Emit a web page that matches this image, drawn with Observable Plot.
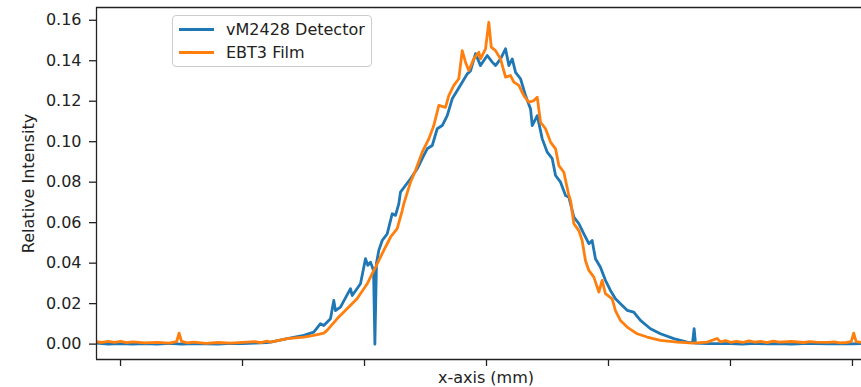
<!DOCTYPE html>
<html>
<head>
<meta charset="utf-8">
<script src="https://cdn.jsdelivr.net/npm/d3@7"></script>
<script src="https://cdn.jsdelivr.net/npm/@observablehq/plot@0.6"></script>
<style>
  html, body { margin: 0; padding: 0; background: #fff; }
  #wrap { position: relative; width: 861px; height: 387px; font-family: "DejaVu Sans", sans-serif; }
  #legend { position: absolute; left: 172px; top: 15px; width: 198px; height: 50px;
    border: 1px solid #cccccc; border-radius: 4px; background: rgba(255,255,255,0.8); font-size: 16px; color: #222; }
  .item { position: absolute; left: 6px; height: 20px; display: flex; align-items: center; }
  .sw { width: 35px; height: 3px; margin-right: 12px; }
</style>
</head>
<body>
<div id="wrap"></div>
<script>
// ---- data (x in mm, relative intensity) ----
const seriesNames = ["vM2428 Detector", "EBT3 Film"];
const seriesColors = ["#1f77b4", "#ff7f0e"];

const detectorX = [-32,-31,-30,-29,-28,-27,-26,-25,-24,-23,-22,-21,-20,-19,-18,
  -17.70,-16.34,-14.98,-14.16,-13.61,-13.34,-12.79,-12.52,-12.38,-11.97,-11.15,-11.01,-10.33,-9.92,-9.73,-9.51,-9.26,-9.15,-9.02,-8.83,-8.55,-8.14,-7.73,-7.46,-7.19,-7.05,-6.23,-5.68,-5.14,-4.86,-4.45,-4.04,-3.63,-3.22,-2.81,-2.40,-1.99,-1.58,-1.31,-0.90,-0.49,0.06,0.47,0.74,1.15,1.56,1.83,2.11,2.38,2.79,3.20,3.61,3.75,4.16,4.57,4.98,5.39,5.66,6.07,6.48,6.75,7.16,7.57,7.98,8.39,8.66,8.93,9.34,9.75,10.16,10.57,10.98,11.53,12.07,12.62,13.44,14.26,15.35,16.45,16.89,17.02,17.13,18.09,19.18,
  20,21,22,23,24,25,26,27,28,29,30,30.74];
const detectorY = [0.0005,0,0.0003,0,0.0002,0,0.0004,0,0.0003,0.0001,0,0.0004,0.0002,0.0005,0.0008,
  0.0010,0.0027,0.0043,0.0059,0.0101,0.0092,0.0125,0.0216,0.0166,0.0183,0.0274,0.0240,0.0298,0.0422,0.0389,0.0405,0.0364,0.0000,0.0399,0.0463,0.0512,0.0545,0.0644,0.0636,0.0693,0.0751,0.0817,0.0866,0.0932,0.0965,0.0981,0.1064,0.1080,0.1129,0.1212,0.1253,0.1294,0.1335,0.1350,0.1435,0.1376,0.1426,0.1393,0.1376,0.1409,0.1459,0.1376,0.1409,0.1343,0.1311,0.1228,0.1162,0.1080,0.1129,0.1014,0.0948,0.0916,0.0833,0.0800,0.0734,0.0726,0.0627,0.0595,0.0545,0.0496,0.0512,0.0422,0.0380,0.0315,0.0265,0.0224,0.0200,0.0167,0.0158,0.0117,0.0076,0.0051,0.0027,0.0010,0.0006,0.0076,0.0005,0.0002,0.0002,
  0.0003,0,0.0004,0.0001,0.0003,0,0.0002,0.0003,0.0001,0.0002,0.0001,0.0002];

const filmX = [-32,-31.5,-31,-30.5,-30,-29.5,-29,-28,-27,-26,-25.4,-25.2,-25.0,-24.5,-24,-23,-22,-21,-20,-19,-18.5,-18,
  -17.70,-16.34,-14.98,-14.16,-13.34,-13.07,-12.25,-11.43,-10.61,-9.78,-9.37,-8.96,-8.42,-7.87,-7.32,-6.91,-6.78,-6.23,-5.82,-5.27,-4.73,-4.32,-3.91,-3.36,-3.09,-2.68,-2.27,-1.99,-1.72,-1.45,-1.04,-0.63,-0.49,-0.08,0.19,0.39,0.74,1.15,1.56,1.97,2.24,2.65,3.06,3.47,3.88,4.16,4.43,4.84,5.25,5.66,5.93,6.34,6.75,6.89,7.16,7.57,7.84,8.11,8.39,8.80,9.21,9.48,9.75,10.30,10.57,10.98,11.53,12.35,13.17,14.26,15.63,16.99,18.09,18.91,19.18,
  19.6,20,20.5,21,21.5,22,22.5,23,23.5,24,25,26,26.5,27,28,28.5,29,29.5,29.9,30.1,30.3,30.74];
const filmY = [0.0012,0.0008,0.0014,0.0009,0.0013,0.0007,0.0011,0.0006,0.0009,0.0005,0.0012,0.0054,0.0013,0.0006,0.0010,0.0004,0.0008,0.0005,0.0009,0.0012,0.0007,0.0015,
  0.0010,0.0027,0.0035,0.0043,0.0054,0.0068,0.0125,0.0175,0.0224,0.0298,0.0348,0.0397,0.0463,0.0528,0.0570,0.0660,0.0693,0.0800,0.0858,0.0948,0.1014,0.1080,0.1179,0.1170,0.1228,0.1278,0.1311,0.1450,0.1393,0.1352,0.1409,0.1442,0.1409,0.1459,0.1590,0.1467,0.1450,0.1409,0.1319,0.1327,0.1294,0.1278,0.1228,0.1195,0.1203,0.1220,0.1096,0.1064,0.0998,0.0965,0.0882,0.0849,0.0734,0.0710,0.0595,0.0561,0.0512,0.0413,0.0364,0.0331,0.0257,0.0315,0.0249,0.0224,0.0166,0.0117,0.0084,0.0051,0.0035,0.0018,0.0010,0.0005,0.0010,0.0028,0.0011,
  0.0017,0.0009,0.0014,0.0008,0.0016,0.0010,0.0013,0.0007,0.0015,0.0010,0.0013,0.0008,0.0012,0.0010,0.0009,0.0011,0.0006,0.0008,0.0012,0.0054,0.0012,0.0008];

const yTicks = [0, 0.02, 0.04, 0.06, 0.08, 0.10, 0.12, 0.14, 0.16];
const xTicks = [-30, -20, -10, 0, 10, 20, 30];
const xLabel = "x-axis (mm)";
const yLabel = "Relative Intensity";

const xDomain = [-31.97, 30.74];
const yDomain = [-0.0076, 0.1663];

const detector = detectorX.map((x, i) => ({x, y: detectorY[i]}));
const film = filmX.map((x, i) => ({x, y: filmY[i]}));

const chart = Plot.plot({
  width: 861,
  height: 387,
  marginLeft: 96,
  marginRight: 0,
  marginTop: 7,
  marginBottom: 28,
  style: {fontFamily: "DejaVu Sans, sans-serif", fontSize: "16px", color: "#222", background: "#fff"},
  x: {domain: xDomain},
  y: {domain: yDomain},
  marks: [
    Plot.line(detector, {x: "x", y: "y", stroke: seriesColors[0], strokeWidth: 2.8, clip: true}),
    Plot.line(film, {x: "x", y: "y", stroke: seriesColors[1], strokeWidth: 2.8, clip: true}),
    Plot.axisX({ticks: xTicks, tickFormat: () => "", tickSize: 7, strokeWidth: 1.3, stroke: "#222", label: null}),
    Plot.axisY({ticks: yTicks, tickFormat: d3.format(".2f"), tickSize: 7, tickPadding: 8, strokeWidth: 1.3, stroke: "#222", fill: "#222", label: null}),
    Plot.ruleX([xDomain[0]], {stroke: "#222", strokeWidth: 1.3}),
    Plot.ruleY([yDomain[0], yDomain[1]], {stroke: "#222", strokeWidth: 1.3}),
    Plot.text([yLabel], {frameAnchor: "left", textAnchor: "middle", lineAnchor: "middle", dx: -68, rotate: -90, fontSize: 16, fill: "#222"}),
    Plot.text([xLabel], {frameAnchor: "bottom", textAnchor: "middle", lineAnchor: "middle", dx: 7, dy: 18, fontSize: 16, fill: "#222"})
  ]
});

const wrap = document.getElementById("wrap");
wrap.appendChild(chart);

const legend = document.createElement("div");
legend.id = "legend";
seriesNames.forEach((name, i) => {
  const item = document.createElement("div");
  item.className = "item";
  item.style.top = (i === 0 ? 3 : 26.5) + "px";
  const sw = document.createElement("div");
  sw.className = "sw";
  sw.style.background = seriesColors[i];
  const t = document.createElement("span");
  t.textContent = name;
  item.appendChild(sw);
  item.appendChild(t);
  legend.appendChild(item);
});
wrap.appendChild(legend);
</script>
</body>
</html>
